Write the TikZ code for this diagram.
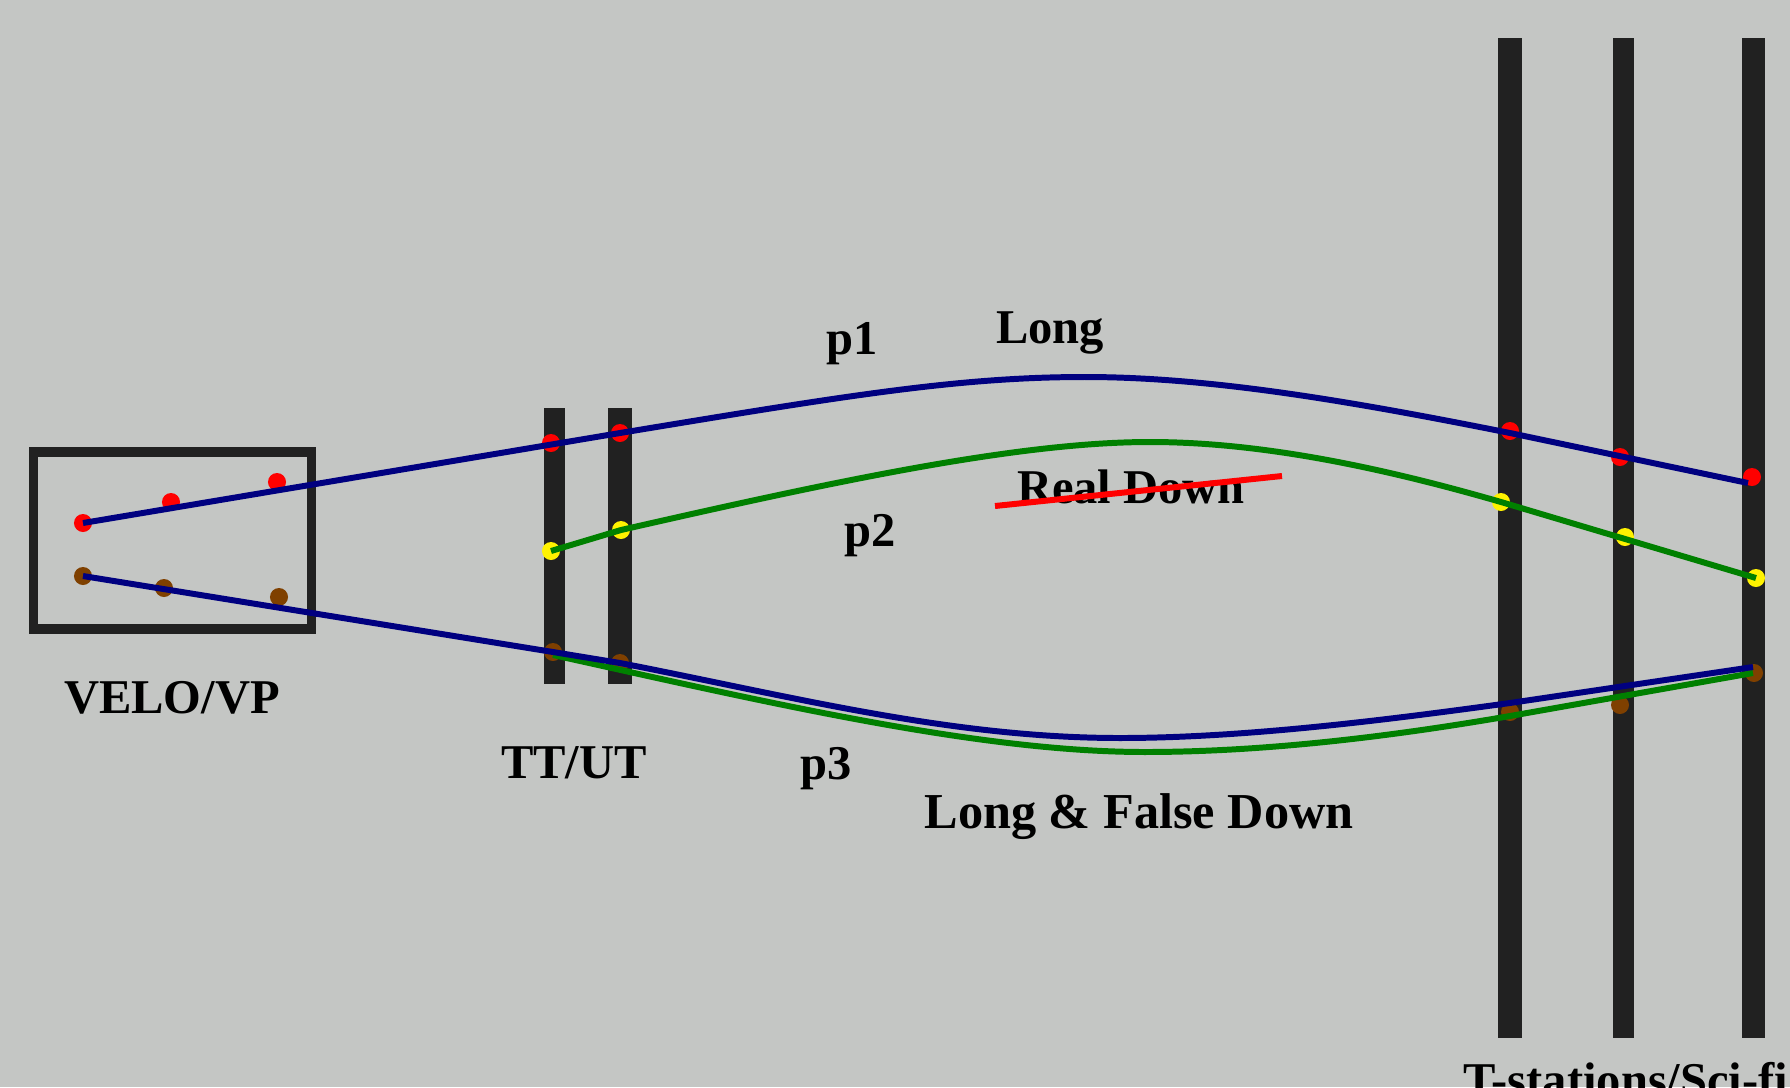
\documentclass[tikz,border=0pt]{standalone}
\usepackage{fontspec}
\setmainfont{Liberation Serif}
\usetikzlibrary{positioning}
\definecolor{panel}{HTML}{C4C6C4}
\definecolor{ink}{HTML}{212121}
\definecolor{trackblue}{HTML}{000080}
\definecolor{trackgreen}{HTML}{008000}
\definecolor{hitbrown}{HTML}{7F4000}
\tikzset{
  bar/.style={fill=ink,inner sep=0pt,minimum width=#1},
  hit/.style={circle,fill=#1,inner sep=0pt,minimum size=0.18cm},
  track/.style={draw=#1,line width=1.7pt},
  lbl/.style={anchor=base,inner sep=0pt,font=\fontsize{13.8}{16}\selectfont\bfseries}
}

\begin{document}
\begin{tikzpicture}[x=0.01cm,y=-0.01cm]
\useasboundingbox (0,0) rectangle (1790,1087);
\clip (0,0) rectangle (1790,1087);
\fill[panel] (0,0) rectangle (1790,1087);
% detectors
\node[draw=ink,line width=2.6pt,inner sep=0pt,minimum width=2.78cm,minimum height=1.77cm] (velo) at (172.5,540.5) {};
\node[bar=0.21cm,minimum height=2.76cm] (tta) at (554.5,546) {};
\node[bar=0.24cm,minimum height=2.76cm] (ttb) at (620,546) {};
\node[bar=0.24cm,minimum height=10cm] (ta) at (1510,538) {};
\node[bar=0.21cm,minimum height=10cm] (tb) at (1623.5,538) {};
\node[bar=0.23cm,minimum height=10cm] (tc) at (1753.5,538) {};
% hits
\node[hit=red] (v1) at (83,523) {};
\node[hit=red] (v2) at (171,502) {};
\node[hit=red] (v3) at (277,482) {};
\node[hit=hitbrown] (w1) at (83,576) {};
\node[hit=hitbrown] (w2) at (164,588) {};
\node[hit=hitbrown] (w3) at (279,597) {};
\node[hit=red] (u1) at (551,443) {};
\node[hit=red] (u2) at (620,433) {};
\node[hit=yellow] (y1) at (551,551) {};
\node[hit=yellow] (y2) at (621,530) {};
\node[hit=hitbrown] (b1) at (553,652) {};
\node[hit=hitbrown] (b2) at (620,663) {};
\node[hit=red] (s1) at (1510,431) {};
\node[hit=red] (s2) at (1620,457) {};
\node[hit=red] (s3) at (1752,477) {};
\node[hit=yellow] (g1) at (1501,502) {};
\node[hit=yellow] (g2) at (1625,537) {};
\node[hit=yellow] (g3) at (1756,578) {};
\node[hit=hitbrown] (d1) at (1510,712) {};
\node[hit=hitbrown] (d2) at (1620,705) {};
\node[hit=hitbrown] (d3) at (1754,673) {};
% tracks
\coordinate (topa) at (1085,377);
\coordinate (topb) at (1510,433);
\coordinate (topc) at (1748,483);
\coordinate (mida) at (1150,442);
\coordinate (lowa) at (1120,738);
\coordinate (lowb) at (1510,703);
\coordinate (lowc) at (1753,667);
\coordinate (loga) at (553,655);
\coordinate (logb) at (1145,752);
\coordinate (logc) at (1510,716);
\coordinate (logd) at (1753,673);
\coordinate (ra) at (995,506);
\coordinate (rb) at (1282,476);
\draw[track=trackgreen] (y1.center) -- (y2.center) .. controls (840,480) and (1020,442) .. (mida) .. controls (1260,442) and (1380,467) .. (g1.center) -- (g3.center);
\draw[track=trackgreen] (loga) .. controls (770,703) and (980,752) .. (logb) .. controls (1270,752) and (1400,735) .. (logc) -- (logd);
\draw[track=trackblue] (v1.center) -- (u2.center) .. controls (850,395) and (960,377) .. (topa) .. controls (1210,377) and (1350,401) .. (topb) -- (topc);
\draw[track=trackblue] (w1.center) -- (b1.center) -- (b2.center) .. controls (790,696) and (950,738) .. (lowa) .. controls (1250,738) and (1400,718) .. (lowb) -- (lowc);
% labels
\node[lbl] (lvelo) at (172,713) {VELO/VP};
\node[lbl] (ltt) at (574,778) {TT/UT};
\node[lbl] (lp1) at (852,354) {p1};
\node[lbl] (llong) at (1050,343) {Long};
\node[lbl] (lp2) at (870,546) {p2};
\node[lbl] (lp3) at (826,779) {p3};
\node[lbl] (lreal) at (1131,503) {Real Down};
\draw[red,line width=1.7pt] (ra) -- (rb);
\node[lbl,font=\fontsize{14.3}{16}\selectfont\bfseries] (lfalse) at (1139,828) {Long \& False Down};
\node[lbl] (lt) at (1626,1096) {T-stations/Sci-fi};
\end{tikzpicture}
\end{document}
